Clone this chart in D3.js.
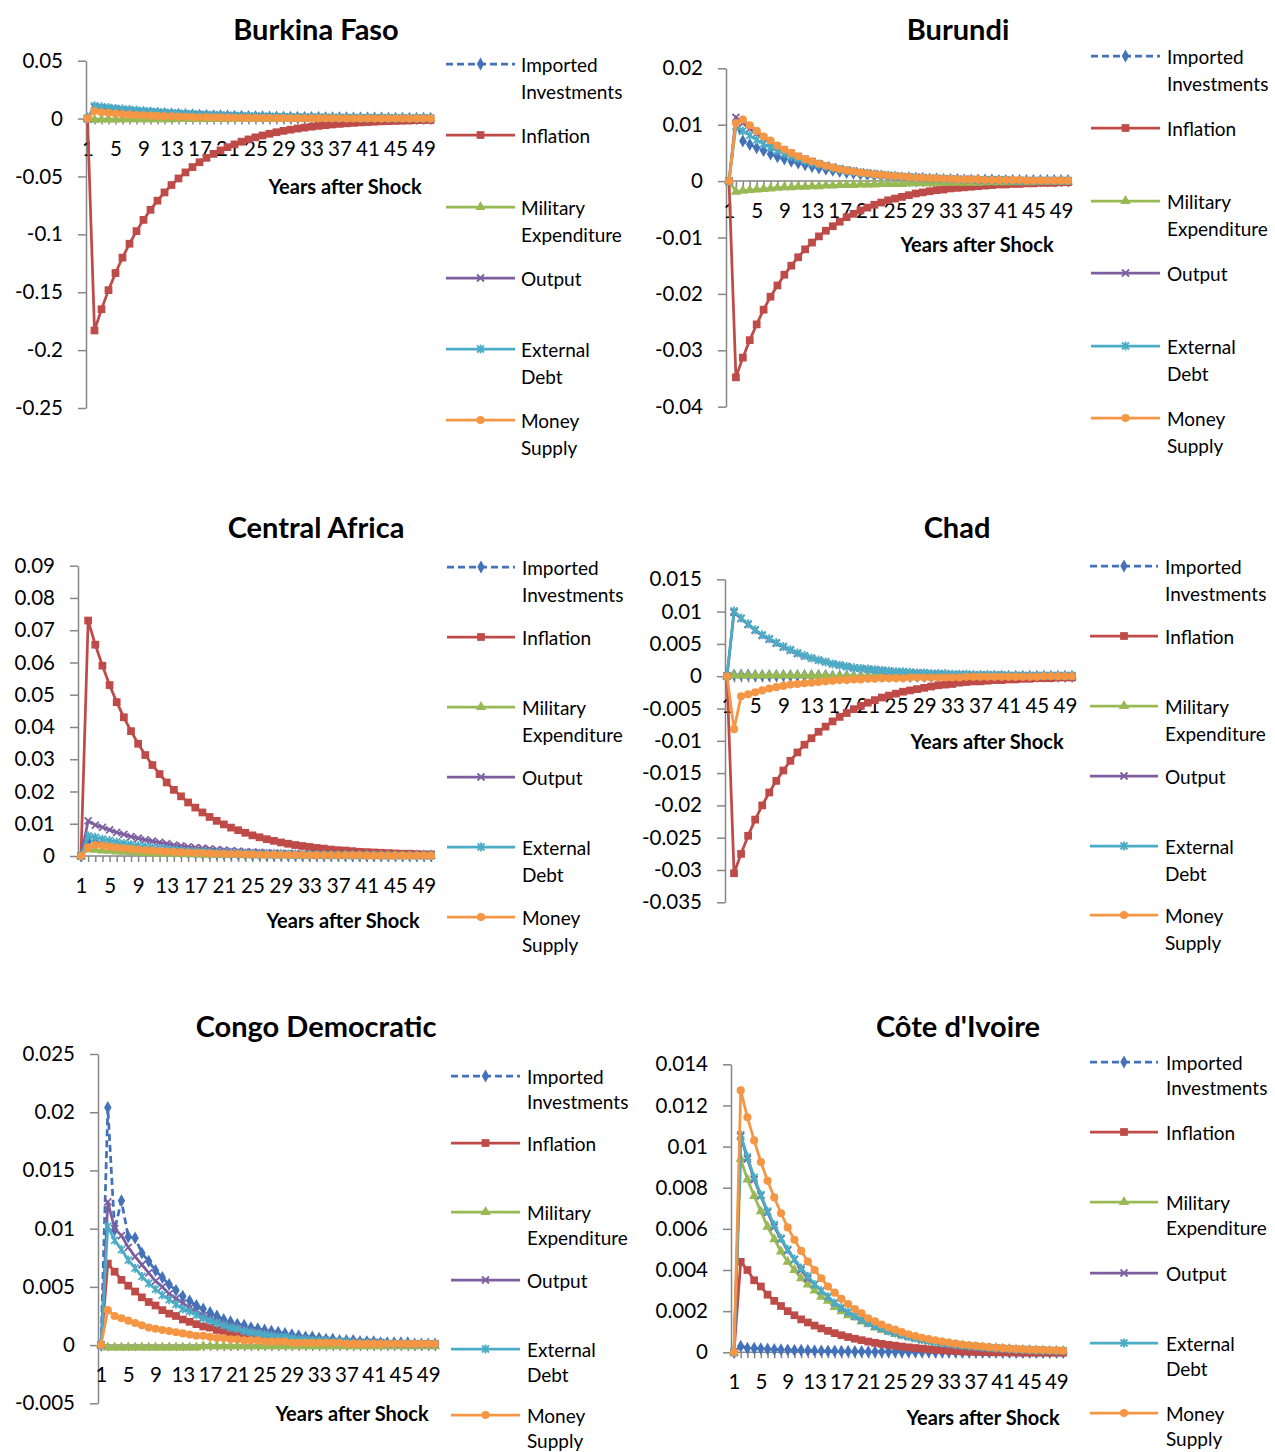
<!DOCTYPE html>
<html lang="en">
<head>
<meta charset="UTF-8">
<title>Impulse responses</title>
<script src="https://cdn.jsdelivr.net/npm/d3@7"></script>
<style>
  body { margin: 0; background: #fff; }
  text { font-family: Lato, "Open Sans", sans-serif; fill: #000; }
</style>
</head>
<body>
<svg id="chart"></svg>
<script>
// categories and tick labels
const years = [1,2,3,4,5,6,7,8,9,10,11,12,13,14,15,16,17,18,19,20,21,22,23,24,25,
  26,27,28,29,30,31,32,33,34,35,36,37,38,39,40,41,42,43,44,45,46,47,48,49,50];
const xTickLabels = [1,5,9,13,17,21,25,29,33,37,41,45,49];
const seriesNames = [["Imported","Investments"],["Inflation"],["Military","Expenditure"],
  ["Output"],["External","Debt"],["Money","Supply"]];
const panelTitles = ["Burkina Faso","Burundi","Central Africa","Chad","Congo Democratic","Côte d'Ivoire"];

const bfTicks = [-0.25,-0.2,-0.15,-0.1,-0.05,0,0.05];
const buTicks = [-0.04,-0.03,-0.02,-0.01,0,0.01,0.02];
const caTicks = [0,0.01,0.02,0.03,0.04,0.05,0.06,0.07,0.08,0.09];
const tdTicks = [-0.035,-0.03,-0.025,-0.02,-0.015,-0.01,-0.005,0,0.005,0.01,0.015];
const cdTicks = [-0.005,0,0.005,0.01,0.015,0.02,0.025];
const ciTicks = [0,0.002,0.004,0.006,0.008,0.01,0.012,0.014];

// Burkina Faso
const bfImported = [0,.0090,.0084,.0078,.0072,.0067,.0063,.0058,.0054,.0050,
  .0047,.0044,.0041,.0038,.0035,.0033,.0030,.0028,.0026,.0024,
  .0023,.0021,.0020,.0018,.0017,.0016,.0015,.0014,.0013,.0012,
  .0011,.0010,.0009,.0009,.0008,.0008,.0007,.0007,.0006,.0006,
  .0005,.0005,.0005,.0004,.0004,.0004,.0003,.0003,.0003,.0003];
const bfInflation = [0,-.183,-.1647,-.1482,-.1334,-.1201,-.1081,-.0972,-.0875,-.0788,
  -.0709,-.0638,-.0574,-.0517,-.0465,-.0419,-.0377,-.0339,-.0305,-.0275,
  -.0247,-.0223,-.0200,-.0180,-.0162,-.0146,-.0131,-.0118,-.0106,-.0096,
  -.0086,-.0078,-.0070,-.0063,-.0057,-.0051,-.0046,-.0041,-.0037,-.0033,
  -.0030,-.0027,-.0024,-.0022,-.0020,-.0018,-.0016,-.0014,-.0013,-.0012];
const bfMilitary = [0,-.0010,-.0009,-.0009,-.0008,-.0007,-.0007,-.0006,-.0006,-.0006,
  -.0005,-.0005,-.0005,-.0004,-.0004,-.0004,-.0003,-.0003,-.0003,-.0003,
  -.0003,-.0002,-.0002,-.0002,-.0002,-.0002,-.0002,-.0002,-.0001,-.0001,
  -.0001,-.0001,-.0001,-.0001,-.0001,-.0001,-.0001,-.0001,-.0001,-.0001,
  -.0001,-.0001,-.0001,-.0001,0,0,0,0,0,0];
const bfOutput = [0,.0100,.0093,.0086,.0080,.0075,.0070,.0065,.0060,.0056,
  .0052,.0048,.0045,.0042,.0039,.0036,.0034,.0031,.0029,.0027,
  .0025,.0023,.0022,.0020,.0019,.0018,.0016,.0015,.0014,.0013,
  .0012,.0011,.0011,.0010,.0009,.0008,.0008,.0007,.0007,.0006,
  .0006,.0005,.0005,.0005,.0004,.0004,.0004,.0004,.0003,.0003];
const bfDebt = [0,.0110,.0102,.0095,.0088,.0082,.0077,.0071,.0066,.0062,
  .0057,.0053,.0050,.0046,.0043,.0040,.0037,.0034,.0032,.0030,
  .0028,.0026,.0024,.0022,.0021,.0019,.0018,.0017,.0015,.0014,
  .0013,.0012,.0012,.0011,.0010,.0009,.0009,.0008,.0008,.0007,
  .0006,.0006,.0006,.0005,.0005,.0005,.0004,.0004,.0004,.0003];
const bfMoney = [0,.0065,.0055,.0049,.0043,.0038,.0034,.0031,.0028,.0025,
  .0023,.0021,.0019,.0017,.0015,.0014,.0012,.0011,.0010,.0009,
  .0008,.0007,.0007,.0006,.0005,.0005,.0004,.0004,.0004,.0003,
  .0003,.0003,.0002,.0002,.0002,.0002,.0002,.0001,.0001,.0001,
  .0001,.0001,.0001,.0001,.0001,.0001,0,0,0,0];

// Burundi
const buImported = [0,.0105,.0071,.0065,.0059,.0054,.0048,.0043,.0039,.0035,
  .0032,.0029,.0026,.0023,.0021,.0019,.0017,.0015,.0014,.0012,
  .0011,.0010,.0009,.0008,.0007,.0006,.0006,.0005,.0005,.0004,
  .0004,.0003,.0003,.0003,.0002,.0002,.0002,.0002,.0002,.0001,
  .0001,.0001,.0001,.0001,.0001,.0001,.0001,.0001,.0001,.0001];
const buInflation = [0,-.0348,-.0313,-.0282,-.0254,-.0228,-.0205,-.0185,-.0166,-.0150,
  -.0135,-.0121,-.0109,-.0098,-.0088,-.0080,-.0072,-.0064,-.0058,-.0052,
  -.0047,-.0042,-.0038,-.0034,-.0031,-.0028,-.0025,-.0022,-.0020,-.0018,
  -.0016,-.0015,-.0013,-.0012,-.0011,-.0010,-.0009,-.0008,-.0007,-.0006,
  -.0006,-.0005,-.0005,-.0004,-.0004,-.0003,-.0003,-.0003,-.0002,-.0002];
const buMilitary = [0,-.0019,-.0017,-.0016,-.0015,-.0014,-.0013,-.0012,-.0011,-.0011,
  -.0010,-.0010,-.0009,-.0009,-.0008,-.0008,-.0007,-.0007,-.0007,-.0006,
  -.0006,-.0006,-.0005,-.0005,-.0005,-.0005,-.0004,-.0004,-.0004,-.0004,
  -.0003,-.0003,-.0003,-.0003,-.0003,-.0003,-.0003,-.0002,-.0002,-.0002,
  -.0002,-.0002,-.0002,-.0002,-.0002,-.0001,-.0001,-.0001,-.0001,-.0001];
const buOutput = [0,.0113,.0103,.0093,.0084,.0076,.0068,.0061,.0055,.0049,
  .0044,.0039,.0035,.0031,.0028,.0025,.0022,.0020,.0018,.0016,
  .0014,.0013,.0011,.0010,.0009,.0008,.0007,.0007,.0006,.0005,
  .0005,.0004,.0004,.0003,.0003,.0003,.0002,.0002,.0002,.0002,
  .0002,.0001,.0001,.0001,.0001,.0001,.0001,.0001,.0001,.0001];
const buDebt = [0,.0097,.0089,.0081,.0073,.0066,.0060,.0054,.0049,.0044,
  .0040,.0036,.0032,.0029,.0026,.0023,.0021,.0019,.0017,.0015,
  .0014,.0012,.0011,.0010,.0009,.0008,.0007,.0006,.0006,.0005,
  .0005,.0004,.0004,.0003,.0003,.0003,.0002,.0002,.0002,.0002,
  .0002,.0001,.0001,.0001,.0001,.0001,.0001,.0001,.0001,.0001];
const buMoney = [0,.0103,.0109,.0099,.0089,.0079,.0072,.0063,.0056,.0050,
  .0044,.0039,.0035,.0031,.0027,.0024,.0021,.0019,.0017,.0015,
  .0014,.0012,.0011,.0010,.0009,.0008,.0007,.0006,.0006,.0005,
  .0005,.0004,.0004,.0003,.0003,.0003,.0003,.0002,.0002,.0002,
  .0002,.0002,.0002,.0001,.0001,.0001,.0001,.0001,.0001,.0001];

// Central Africa
const caImported = [0,.0045,.0042,.0039,.0035,.0032,.0029,.0026,.0023,.0021,
  .0019,.0017,.0015,.0014,.0012,.0011,.0010,.0009,.0008,.0007,
  .0007,.0006,.0005,.0005,.0004,.0004,.0003,.0003,.0003,.0002,
  .0002,.0002,.0002,.0002,.0002,.0002,.0002,.0001,.0001,.0001,
  .0001,.0001,.0001,.0001,.0001,.0001,.0001,.0001,.0001,.0001];
const caInflation = [0,.073,.0655,.059,.053,.0477,.043,.0387,.0348,.0313,
  .0282,.0254,.0228,.0205,.0185,.0166,.0150,.0135,.0121,.0109,
  .0098,.0088,.0080,.0072,.0064,.0058,.0052,.0047,.0042,.0038,
  .0034,.0031,.0028,.0025,.0023,.0020,.0018,.0017,.0015,.0013,
  .0012,.0011,.0010,.0009,.0008,.0007,.0007,.0006,.0005,.0005];
const caMilitary = [0,.0021,.0019,.0017,.0016,.0014,.0013,.0012,.0010,.0009,
  .0008,.0008,.0007,.0006,.0006,.0005,.0005,.0004,.0004,.0003,
  .0003,.0003,.0003,.0002,.0002,.0002,.0002,.0002,.0002,.0002,
  .0002,.0002,.0002,.0001,.0001,.0001,.0001,.0001,.0001,.0001,
  .0001,.0001,.0001,.0001,.0001,0,0,0,0,0];
const caOutput = [0,.0109,.0096,.0089,.0081,.0073,.0067,.0060,.0055,.0050,
  .0046,.0042,.0038,.0034,.0031,.0028,.0026,.0024,.0022,.0020,
  .0018,.0016,.0015,.0013,.0012,.0011,.0010,.0009,.0008,.0008,
  .0007,.0006,.0006,.0005,.0005,.0004,.0004,.0004,.0003,.0003,
  .0003,.0003,.0002,.0002,.0002,.0002,.0002,.0002,.0001,.0001];
const caDebt = [0,.0062,.0058,.0052,.0048,.0043,.0039,.0035,.0032,.0029,
  .0026,.0023,.0021,.0019,.0017,.0015,.0014,.0013,.0011,.0010,
  .0009,.0008,.0007,.0007,.0006,.0005,.0005,.0004,.0004,.0004,
  .0003,.0003,.0003,.0003,.0003,.0002,.0002,.0002,.0002,.0002,
  .0002,.0002,.0002,.0001,.0001,.0001,.0001,.0001,.0001,.0001];
const caMoney = [0,.0027,.0034,.0032,.0029,.0026,.0024,.0022,.0020,.0018,
  .0017,.0015,.0014,.0013,.0012,.0011,.0010,.0009,.0008,.0007,
  .0007,.0006,.0006,.0005,.0005,.0004,.0004,.0004,.0003,.0003,
  .0003,.0003,.0002,.0002,.0002,.0002,.0002,.0002,.0002,.0002,
  .0001,.0001,.0001,.0001,.0001,.0001,.0001,.0001,.0001,.0001];

// Chad
const tdImported = [0,.0002,.0002,.0002,.0001,.0001,.0001,.0001,.0001,.0001,
  .0001,.0001,.0001,.0001,.0001,0,0,0,0,0,
  0,0,0,0,0,0,0,0,0,0,
  0,0,0,0,0,0,0,0,0,0,
  0,0,0,0,0,0,0,0,0,0];
const tdInflation = [0,-.0305,-.0275,-.0247,-.0222,-.0200,-.0180,-.0162,-.0146,-.0131,
  -.0118,-.0106,-.0096,-.0086,-.0078,-.0070,-.0063,-.0057,-.0051,-.0046,
  -.0041,-.0037,-.0033,-.0030,-.0027,-.0024,-.0022,-.0020,-.0018,-.0016,
  -.0014,-.0013,-.0012,-.0010,-.0009,-.0008,-.0008,-.0007,-.0006,-.0006,
  -.0005,-.0005,-.0004,-.0004,-.0003,-.0003,-.0003,-.0002,-.0002,-.0002];
const tdMilitary = [0,.0001,.0001,.0001,.0001,.0001,.0001,.0001,.0001,.0001,
  .0001,.0001,.0001,.0001,.0001,0,0,0,0,0,
  0,0,0,0,0,0,0,0,0,0,
  0,0,0,0,0,0,0,0,0,0,
  0,0,0,0,0,0,0,0,0,0];
const tdOutput = [0,.0099,.0089,.0080,.0071,.0063,.0057,.0051,.0045,.0040,
  .0035,.0031,.0028,.0025,.0022,.0019,.0017,.0015,.0013,.0012,
  .0011,.0010,.0009,.0008,.0007,.0006,.0006,.0005,.0005,.0004,
  .0004,.0003,.0003,.0003,.0003,.0002,.0002,.0002,.0002,.0002,
  .0001,.0001,.0001,.0001,.0001,.0001,.0001,.0001,.0001,.0001];
const tdDebt = [0,.0101,.0090,.0081,.0072,.0064,.0058,.0052,.0046,.0041,
  .0036,.0032,.0028,.0025,.0022,.0019,.0017,.0015,.0013,.0012,
  .0011,.0010,.0009,.0008,.0007,.0007,.0006,.0005,.0005,.0004,
  .0004,.0004,.0003,.0003,.0003,.0002,.0002,.0002,.0002,.0002,
  .0001,.0001,.0001,.0001,.0001,.0001,.0001,.0001,.0001,.0001];
const tdMoney = [0,-.0082,-.0031,-.0028,-.0025,-.0022,-.0019,-.0017,-.0015,-.0013,
  -.0012,-.0011,-.0010,-.0009,-.0008,-.0007,-.0006,-.0006,-.0005,-.0005,
  -.0004,-.0004,-.0003,-.0003,-.0003,-.0003,-.0002,-.0002,-.0002,-.0002,
  -.0002,-.0002,-.0002,-.0002,-.0001,-.0001,-.0001,-.0001,-.0001,-.0001,
  -.0001,-.0001,-.0001,-.0001,-.0001,0,0,0,0,0];

// Congo Democratic
const cdImported = [0,.0204,.0099,.0124,.0093,.0092,.0079,.0072,.0064,.0058,
  .0052,.0047,.0042,.0038,.0034,.0031,.0028,.0025,.0022,.0020,
  .0018,.0017,.0015,.0014,.0013,.0012,.0011,.0010,.0009,.0008,
  .0007,.0007,.0006,.0005,.0005,.0004,.0004,.0004,.0003,.0003,
  .0003,.0002,.0002,.0002,.0002,.0002,.0001,.0001,.0001,.0001];
const cdInflation = [0,.0070,.0063,.0056,.0051,.0046,.0041,.0037,.0034,.0030,
  .0027,.0025,.0022,.0020,.0018,.0016,.0015,.0013,.0012,.0011,
  .0010,.0009,.0008,.0007,.0006,.0006,.0005,.0005,.0004,.0004,
  .0003,.0003,.0003,.0003,.0002,.0002,.0002,.0002,.0002,.0002,
  .0002,.0002,.0001,.0001,.0001,.0001,.0001,.0001,.0001,.0001];
const cdMilitary = [0,-.0002,-.0002,-.0002,-.0002,-.0002,-.0002,-.0002,-.0002,-.0002,
  -.0002,-.0002,-.0002,-.0002,-.0002,-.0001,-.0001,-.0001,-.0001,-.0001,
  -.0001,-.0001,-.0001,-.0001,-.0001,-.0001,-.0001,-.0001,-.0001,-.0001,
  -.0001,-.0001,-.0001,-.0001,-.0001,-.0001,-.0001,-.0001,-.0001,-.0001,
  -.0001,-.0001,-.0001,-.0001,-.0001,-.0001,-.0001,-.0001,-.0001,-.0001];
const cdOutput = [0,.0123,.0100,.0094,.0084,.0076,.0069,.0062,.0055,.0050,
  .0044,.0040,.0036,.0032,.0029,.0025,.0023,.0020,.0018,.0016,
  .0015,.0013,.0012,.0011,.0010,.0009,.0008,.0007,.0006,.0006,
  .0005,.0005,.0004,.0004,.0003,.0003,.0003,.0002,.0002,.0002,
  .0002,.0002,.0001,.0001,.0001,.0001,.0001,.0001,.0001,.0001];
const cdDebt = [0,.0102,.0090,.0082,.0073,.0066,.0059,.0053,.0048,.0043,
  .0039,.0035,.0031,.0029,.0026,.0023,.0021,.0019,.0017,.0015,
  .0014,.0012,.0011,.0010,.0009,.0008,.0007,.0007,.0006,.0005,
  .0005,.0004,.0004,.0004,.0003,.0003,.0003,.0002,.0002,.0002,
  .0002,.0002,.0001,.0001,.0001,.0001,.0001,.0001,.0001,.0001];
const cdMoney = [0,.0030,.0025,.0023,.0021,.0019,.0017,.0015,.0014,.0013,
  .0012,.0011,.0010,.0009,.0008,.0008,.0007,.0006,.0006,.0005,
  .0005,.0004,.0004,.0004,.0003,.0003,.0003,.0003,.0002,.0002,
  .0002,.0002,.0002,.0002,.0002,.0002,.0001,.0001,.0001,.0001,
  .0001,.0001,.0001,.0001,.0001,.0001,.0001,.0001,.0001,.0001];

// Cote d'Ivoire
const ciImported = [0,.0003,.0002,.0002,.00018,.00016,.00014,.00013,.00012,.0001,
  .0001,.00009,.00008,.00007,.00006,.00006,.00005,.00005,.00004,.00004,
  .00003,.00003,.00003,.00003,.00003,.00002,.00002,.00002,.00002,.00002,
  .00001,.00001,.00001,.00001,.00001,.00001,.00001,.00001,.00001,.00001,
  0,0,0,0,0,0,0,0,0,0];
const ciInflation = [0,.0044,.0040,.0035,.0032,.0028,.0025,.00225,.0020,.0018,
  .0016,.00145,.0013,.00116,.00104,.00093,.00083,.00074,.00066,.00059,
  .00052,.00046,.00041,.00036,.00032,.00028,.00024,.00021,.00018,.00015,
  .00012,.0001,.00008,.00006,.00004,.00003,.00002,.00001,0,0,
  0,-.00001,-.00001,-.00002,-.00002,-.00002,-.00002,-.00002,-.00002,-.00002];
const ciMilitary = [0,.0094,.0084,.0076,.00685,.0061,.0055,.0049,.0044,.0040,
  .0036,.0033,.0030,.0027,.0025,.0022,.0020,.0018,.0017,.0015,
  .0014,.0012,.0011,.0010,.0009,.00083,.00075,.00068,.00061,.00055,
  .0005,.00045,.0004,.00036,.00033,.0003,.00027,.00024,.00022,.0002,
  .00018,.00016,.00014,.00013,.00012,.0001,.00009,.00008,.00008,.00007];
const ciOutput = [0,.0105,.0094,.0084,.0076,.0068,.0061,.0055,.00495,.0045,
  .0040,.0036,.0033,.0030,.0027,.0024,.00215,.00194,.00175,.00157,
  .00141,.00127,.00115,.00103,.00093,.00084,.00075,.00068,.00061,.00055,
  .0005,.00045,.0004,.00036,.00033,.0003,.00027,.00024,.00022,.0002,
  .00018,.00016,.00014,.00013,.00012,.0001,.00009,.00008,.00008,.00007];
const ciDebt = [0,.01058,.0095,.0085,.00766,.00686,.0062,.00555,.0050,.00453,
  .0041,.0037,.0033,.0030,.0027,.0024,.00218,.00196,.00176,.00159,
  .00143,.00129,.00116,.00104,.00094,.00085,.00076,.00069,.00062,.00056,
  .0005,.00045,.00041,.00037,.00033,.0003,.00027,.00024,.00022,.0002,
  .00018,.00016,.00014,.00013,.00012,.0001,.00009,.00008,.00008,.00007];
const ciMoney = [0,.01273,.01142,.0103,.00925,.00834,.00753,.00676,.00607,.00547,
  .00493,.00441,.0040,.0036,.0032,.0029,.0026,.00235,.0021,.0019,
  .00165,.0015,.00135,.0012,.0011,.00098,.00088,.00079,.00071,.00064,
  .00058,.00052,.00047,.00042,.00038,.00034,.00031,.00028,.00025,.00022,
  .0002,.00018,.00016,.00015,.00013,.00012,.00011,.0001,.00009,.00008];

// table built from the arrays above
const panels = [
  {title: panelTitles[0], ticks: bfTicks, series: [bfImported, bfInflation, bfMilitary, bfOutput, bfDebt, bfMoney]},
  {title: panelTitles[1], ticks: buTicks, series: [buImported, buInflation, buMilitary, buOutput, buDebt, buMoney]},
  {title: panelTitles[2], ticks: caTicks, series: [caImported, caInflation, caMilitary, caOutput, caDebt, caMoney]},
  {title: panelTitles[3], ticks: tdTicks, series: [tdImported, tdInflation, tdMilitary, tdOutput, tdDebt, tdMoney]},
  {title: panelTitles[4], ticks: cdTicks, series: [cdImported, cdInflation, cdMilitary, cdOutput, cdDebt, cdMoney]},
  {title: panelTitles[5], ticks: ciTicks, series: [ciImported, ciInflation, ciMilitary, ciOutput, ciDebt, ciMoney]}
];

// where each panel sits on the page
const layout = [
  {title: [316, 28], axisX: 86, xr: [87.5, 430.5], yr: [408, 60.7], xTitle: [345, 186],
   leg: {x0: 446, x1: 515, tx: 521, ys: [64, 135, 207, 278, 349, 420], gap: 27}},
  {title: [958, 28], axisX: 726, xr: [729, 1068], yr: [406.7, 68.3], xTitle: [977, 244],
   leg: {x0: 1091, x1: 1160, tx: 1167, ys: [56, 128, 201, 273, 346, 418], gap: 27}},
  {title: [316, 526], axisX: 78, xr: [81, 431], yr: [856, 565.7], xTitle: [343, 920],
   leg: {x0: 447, x1: 515, tx: 522, ys: [567, 637, 707, 777, 847, 917], gap: 27}},
  {title: [957, 526], axisX: 725, xr: [727, 1072], yr: [902.3, 579.3], xTitle: [987, 741],
   leg: {x0: 1090, x1: 1158, tx: 1165, ys: [566, 636, 706, 776, 846, 915], gap: 27}},
  {title: [316, 1025], axisX: 98, xr: [101, 435], yr: [1403.3, 1054], xTitle: [352, 1413],
   leg: {x0: 451, x1: 520, tx: 527, ys: [1076, 1143, 1212, 1280, 1349, 1415], gap: 25}},
  {title: [958, 1025], axisX: 731, xr: [734, 1063], yr: [1352.3, 1064.3], xTitle: [983, 1417],
   leg: {x0: 1090, x1: 1158, tx: 1166, ys: [1062, 1132, 1202, 1273, 1343, 1413], gap: 25}}
];

const styles = [
  {color: "#4472B8", dash: "7,4", marker: "diamond"},
  {color: "#BE4B48", dash: null, marker: "square"},
  {color: "#98B954", dash: null, marker: "triangle"},
  {color: "#7D5FA0", dash: null, marker: "x"},
  {color: "#4AACC5", dash: null, marker: "star"},
  {color: "#F59645", dash: null, marker: "circle"}
];
const axisColor = "#868686";

const svg = d3.select("#chart").attr("width", 1275).attr("height", 1452);
svg.append("rect").attr("width", 1275).attr("height", 1452).attr("fill", "#fff");

function fmt(d) { return String(+d.toFixed(4)); }

function drawMarker(sel, st) {
  if (st.marker == "x" || st.marker == "star") {
    const p = st.marker == "x" ? "M-3.5,-3.5L3.5,3.5M-3.5,3.5L3.5,-3.5" : "M-3.5,-3.5L3.5,3.5M-3.5,3.5L3.5,-3.5M0,-4.5L0,4.5";
    sel.append("path").attr("d", p).attr("stroke", st.color).attr("stroke-width", 1.8).attr("fill", "none");
  } else {
    const types = {diamond: d3.symbolDiamond, square: d3.symbolSquare, triangle: d3.symbolTriangle, circle: d3.symbolCircle};
    const sizes = {diamond: 48, square: 60, triangle: 46, circle: 52};
    sel.append("path").attr("d", d3.symbol().type(types[st.marker]).size(sizes[st.marker])())
      .attr("fill", st.color);
  }
}

function drawPanel(p, L) {
  const g = svg.append("g");
  const x = d3.scalePoint().domain(years).range(L.xr);
  const y = d3.scaleLinear().domain(d3.extent(p.ticks)).range(L.yr);

  g.append("text").attr("x", L.title[0]).attr("y", L.title[1])
    .attr("text-anchor", "middle").attr("dominant-baseline", "central")
    .attr("font-size", 29).attr("font-weight", "bold").text(p.title);

  const ya = g.append("g").attr("transform", `translate(${L.axisX},0)`)
    .call(d3.axisLeft(y).tickValues(p.ticks).tickSize(8).tickSizeOuter(0).tickPadding(15).tickFormat(fmt));
  ya.selectAll("path, line").attr("stroke", axisColor).attr("stroke-width", 1.5);
  ya.selectAll("text").attr("font-size", 20.5).attr("fill", "#000").style("font-family", "Lato, sans-serif");

  const xa = g.append("g").attr("transform", `translate(0,${y(0)})`)
    .call(d3.axisBottom(x).tickValues(years).tickSize(6).tickSizeOuter(0)
      .tickFormat(d => xTickLabels.includes(d) ? d : ""));
  xa.select(".domain").attr("d", `M${L.axisX},0H${L.xr[1] + 2}`);
  xa.selectAll("path, line").attr("stroke", axisColor).attr("stroke-width", 1.5);
  xa.selectAll("text").attr("y", 30).attr("dy", "0.35em").attr("font-size", 20.5)
    .attr("fill", "#000").style("font-family", "Lato, sans-serif");

  g.append("text").attr("x", L.xTitle[0]).attr("y", L.xTitle[1])
    .attr("text-anchor", "middle").attr("dominant-baseline", "central")
    .attr("font-size", 20).attr("font-weight", "bold").text("Years after Shock");

  const line = d3.line().x((d, j) => x(years[j])).y(d => y(d));
  p.series.forEach((vals, s) => {
    const st = styles[s];
    const sg = g.append("g");
    sg.append("path").datum(vals).attr("d", line).attr("fill", "none")
      .attr("stroke", st.color).attr("stroke-width", 2.75)
      .attr("stroke-dasharray", st.dash);
    sg.selectAll("g.m").data(vals).enter().append("g").attr("class", "m")
      .attr("transform", (d, j) => `translate(${x(years[j])},${y(d)})`)
      .each(function() { drawMarker(d3.select(this), st); });
  });

  // legend
  seriesNames.forEach((name, s) => {
    const st = styles[s];
    const ly = L.leg.ys[s];
    g.append("line").attr("x1", L.leg.x0).attr("x2", L.leg.x1).attr("y1", ly).attr("y2", ly)
      .attr("stroke", st.color).attr("stroke-width", 2.75).attr("stroke-dasharray", st.dash);
    drawMarker(g.append("g").attr("transform", `translate(${(L.leg.x0 + L.leg.x1) / 2},${ly})`), st);
    name.forEach((t, k) => {
      g.append("text").attr("x", L.leg.tx).attr("y", ly + k * L.leg.gap)
        .attr("dominant-baseline", "central").attr("font-size", 19).text(t);
    });
  });
}

panels.forEach((p, i) => drawPanel(p, layout[i]));
</script>
</body>
</html>
